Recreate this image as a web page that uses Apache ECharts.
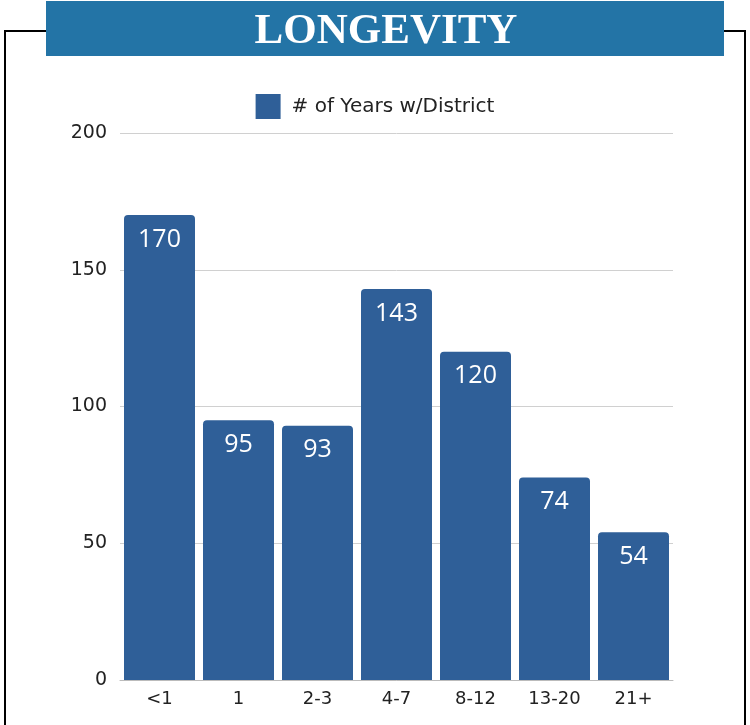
<!DOCTYPE html>
<html>
<head>
<meta charset="utf-8">
<script src="https://cdn.jsdelivr.net/npm/echarts@6/dist/echarts.min.js"></script>
<style>
  html, body { margin: 0; padding: 0; background: #fff; }
  #chart { width: 750px; height: 725px; }
</style>
</head>
<body>
<div id="chart"></div>
<script>
// 数据
const categories = ['<1', '1', '2-3', '4-7', '8-12', '13-20', '21+']
const yearsWithDistrict = [170, 95, 93, 143, 120, 74, 54]
const seriesName = '# of Years w/District'
const titleText = 'LONGEVITY'

const chart = echarts.init(document.getElementById('chart'))

const option = {
  animation: false,
  textStyle: { fontFamily: 'DejaVu Sans' },
  legend: {
    top: 89,
    left: 'center',
    itemWidth: 25,
    itemHeight: 25,
    itemGap: 10,
    icon: 'rect',
    textStyle: { fontSize: 20, color: '#222', fontFamily: 'DejaVu Sans', padding: [0, 0, 0, 6] },
    data: [seriesName]
  },
  grid: {
    left: 120,
    right: 77,
    top: 133,
    bottom: 45,
    containLabel: false
  },
  xAxis: {
    type: 'category',
    data: categories,
    axisLine: { lineStyle: { color: '#bbb', width: 1 } },
    axisTick: { show: false },
    axisLabel: { fontSize: 18, color: '#222', margin: 10 }
  },
  yAxis: {
    type: 'value',
    min: 0,
    max: 200,
    interval: 50,
    axisLine: { show: false },
    axisTick: { show: false },
    axisLabel: { fontSize: 19, color: '#222', margin: 13 },
    splitLine: { lineStyle: { color: '#d0d0d0', width: 1 } }
  },
  series: [{
    name: seriesName,
    type: 'bar',
    data: yearsWithDistrict,
    barWidth: 71,
    itemStyle: { color: '#2F5F98', borderRadius: [4, 4, 0, 0] },
    label: {
      show: true,
      position: 'insideTop',
      distance: 12,
      color: '#fff',
      fontSize: 25,
      fontFamily: 'Open Sans'
    }
  }],
  graphic: [
    {
      type: 'polyline',
      shape: { points: [[5, 725], [5, 31], [46, 31]] },
      style: { stroke: '#000', lineWidth: 2, fill: null }
    },
    {
      type: 'polyline',
      shape: { points: [[724, 31], [745, 31], [745, 725]] },
      style: { stroke: '#000', lineWidth: 2, fill: null }
    },
    {
      type: 'rect',
      shape: { x: 46, y: 1, width: 678, height: 55 },
      style: { fill: '#2374A6' }
    },
    {
      type: 'text',
      x: 386,
      y: 32,
      style: {
        text: titleText,
        fill: '#fff',
        font: 'bold 43px "Liberation Serif"',
        align: 'center',
        verticalAlign: 'middle'
      }
    }
  ]
}

chart.setOption(option)
</script>
</body>
</html>
